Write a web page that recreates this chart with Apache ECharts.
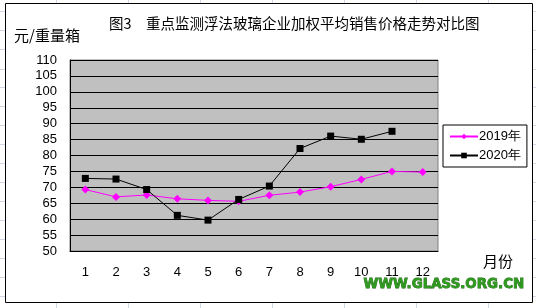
<!DOCTYPE html>
<html><head><meta charset="utf-8">
<script src="https://cdn.jsdelivr.net/npm/echarts@6/dist/echarts.min.js"></script>
<style>html,body{margin:0;padding:0;background:#fff}#c{width:536px;height:308px}</style>
</head><body><div id="c"></div>
<script>
var months = ['1','2','3','4','5','6','7','8','9','10','11','12'];
var s2019 = [69.3, 67.0, 67.6, 66.4, 65.9, 65.6, 67.5, 68.5, 70.2, 72.5, 75.0, 74.8];
var s2020 = [72.8, 72.6, 69.3, 61.2, 59.7, 66.2, 70.4, 82.2, 86.1, 85.1, 87.6, null];
var yTicks = {min: 50, max: 110, step: 5};

var chart = echarts.init(document.getElementById('c'), null, {renderer: 'canvas'});
var g = [];
var gridColor = '#d0d7e5';
[11,30,49,69,87,106,125,144,163,182,201,220,239,258,277,296].forEach(function(y){
  g.push({type:'line', shape:{x1:0,y1:y+0.5,x2:5,y2:y+0.5}, style:{stroke:gridColor,lineWidth:1}, z:-10});
  g.push({type:'line', shape:{x1:532,y1:y+0.5,x2:536,y2:y+0.5}, style:{stroke:gridColor,lineWidth:1}, z:-10});
});
[56,128,200,272,344,416,488].forEach(function(x){
  g.push({type:'line', shape:{x1:x+0.5,y1:0,x2:x+0.5,y2:3}, style:{stroke:gridColor,lineWidth:1}, z:-10});
  g.push({type:'line', shape:{x1:x+0.5,y1:303,x2:x+0.5,y2:308}, style:{stroke:gridColor,lineWidth:1}, z:-10});
});
g.push({type:'rect', shape:{x:5.5,y:3.5,width:527,height:299}, style:{fill:'#fff',stroke:'#000',lineWidth:1}, z:-5});
g.push({type:'text', left:109, top:16, style:{text:'图3　重点监测浮法玻璃企业加权平均销售价格走势对比图', font:'14.5px "Noto Sans CJK SC"', fill:'#000'}});
g.push({type:'text', left:14, top:28, style:{text:'元/重量箱', font:'15px "Noto Sans CJK SC"', fill:'#000'}});
g.push({type:'text', left:483, top:254, style:{text:'月份', font:'15px "Noto Sans CJK SC"', fill:'#000'}});
g.push({type:'text', left:363, top:278, style:{text:'WWW.GLASS.ORG.CN', font:'bold 13.4px "DejaVu Sans"', fill:'#2f9a1f', stroke:'#1d6a12', lineWidth:0.8}});

chart.setOption({
  animation: false,
  backgroundColor: '#fff',
  graphic: g,
  grid: {left: 70, top: 60, width: 368, height: 191, show: true, backgroundColor: '#c0c0c0', borderColor: '#808080', borderWidth: 1},
  legend: {
    left: 443, top: 125, orient: 'vertical', itemGap: 6, itemWidth: 28, itemHeight: 7,
    backgroundColor: '#fff', borderColor: '#000', borderWidth: 1, padding: [5, 6, 5, 6],
    textStyle: {fontFamily: 'Liberation Sans', fontSize: 13, color: '#000', padding: [0,0,0,-4]},
    data: ['2019年', '2020年']
  },
  xAxis: {
    type: 'category', data: months, boundaryGap: true,
    axisLine: {lineStyle: {color: '#000', width: 1}},
    axisTick: {inside: true, length: 4, lineStyle: {color: '#000'}},
    axisLabel: {color: '#000', fontFamily: 'Liberation Sans', fontSize: 13, margin: 15}
  },
  yAxis: {
    type: 'value', min: yTicks.min, max: yTicks.max, interval: yTicks.step,
    axisLine: {show: true, lineStyle: {color: '#000'}},
    axisTick: {show: true, inside: true, length: 3, lineStyle: {color: '#000'}},
    axisLabel: {color: '#000', fontFamily: 'Liberation Sans', fontSize: 13, margin: 13},
    splitLine: {show: true, lineStyle: {color: '#000', width: 1}}
  },
  series: [
    {name: '2019年', type: 'line', data: s2019, symbol: 'diamond', symbolSize: 8,
     lineStyle: {color: '#ff00ff', width: 1}, itemStyle: {color: '#ff00ff'}},
    {name: '2020年', type: 'line', data: s2020, symbol: 'rect', symbolSize: 7,
     lineStyle: {color: '#000', width: 1}, itemStyle: {color: '#000'}}
  ]
});
</script></body></html>
